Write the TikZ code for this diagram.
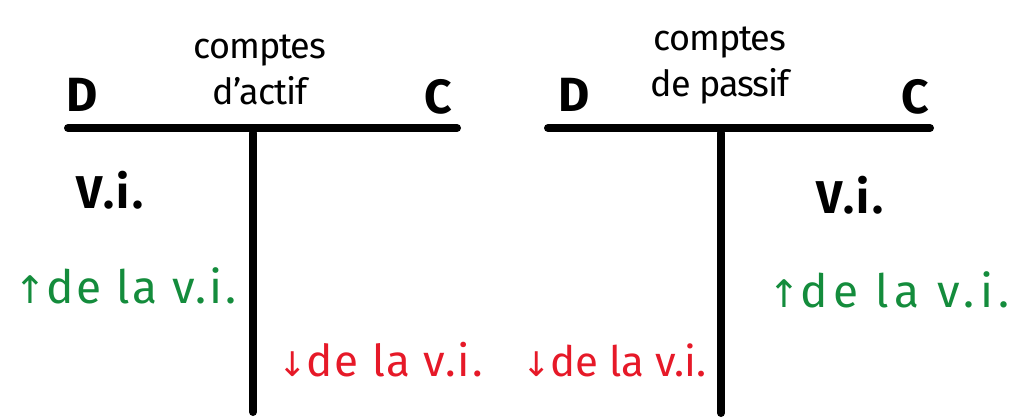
\documentclass[tikz,border=0pt]{standalone}
\usepackage{fontspec}
\setmainfont{Fira Sans}
\newfontfamily\symfont{DejaVu Sans}
\definecolor{vgreen}{RGB}{20,140,60}
\definecolor{vred}{RGB}{230,25,40}
\begin{document}
\begin{tikzpicture}[x=1pt,y=-1pt,
  tline/.style={line width=8pt,line cap=round,black},
  dc/.style={font=\fontsize{48}{50}\selectfont\bfseries,inner sep=0pt},
  title/.style={font=\fontsize{36}{46}\selectfont\addfontfeature{LetterSpace=-3},inner sep=0pt,align=center},
  vi/.style={font=\fontsize{46}{50}\selectfont\bfseries\addfontfeature{LetterSpace=6},inner sep=0pt},
  upt/.style={font=\fontsize{46}{50}\selectfont\addfontfeature{LetterSpace=6},text=vgreen,inner sep=0pt,anchor=west},
  dnt/.style={font=\fontsize{44}{48}\selectfont\addfontfeature{LetterSpace=4},text=vred,inner sep=0pt,anchor=west}]
\useasboundingbox (0,0) rectangle (1024,419);
% left account
\coordinate (l1) at (68,128);
\coordinate (l2) at (457,128);
\coordinate (lt) at (253,133);
\coordinate (lb) at (253,412);
\draw[tline] (l1) -- (l2);
\draw[tline] (lt) -- (lb);
\node[dc] (ld) at (82,95) {D};
\node[dc] (lc) at (438,97) {C};
\node[title] (ltitle) at (260,70) {comptes\\d'actif};
\node[vi] (lvi) at (110,190) {V.i.};
\node[upt] (lup) at (14,286) {{\symfont\fontsize{38}{40}\selectfont↑}de la v.i.};
\node[dnt] (ldn) at (278,360) {{\symfont\fontsize{34}{40}\selectfont↓}de la v.i.};
% right account
\coordinate (r1) at (548,128);
\coordinate (r2) at (930,128);
\coordinate (rt) at (721,133);
\coordinate (rb) at (721,413);
\draw[tline] (r1) -- (r2);
\draw[tline] (rt) -- (rb);
\node[dc] (rd) at (574,95) {D};
\node[dc] (rc) at (915,97) {C};
\node[title] (rtitle) at (720,66) {comptes\\de passif};
\node[vi] (rvi) at (850,195) {V.i.};
\node[upt,font=\fontsize{46}{50}\selectfont\addfontfeature{LetterSpace=12}] (rup) at (768,290) {{\symfont\fontsize{38}{40}\selectfont↑}de la v.i.};
\node[dnt,font=\fontsize{42}{48}\selectfont\addfontfeature{LetterSpace=0}] (rdn) at (522,360) {{\symfont\fontsize{34}{40}\selectfont↓}de la v.i.};
\end{tikzpicture}
\end{document}
